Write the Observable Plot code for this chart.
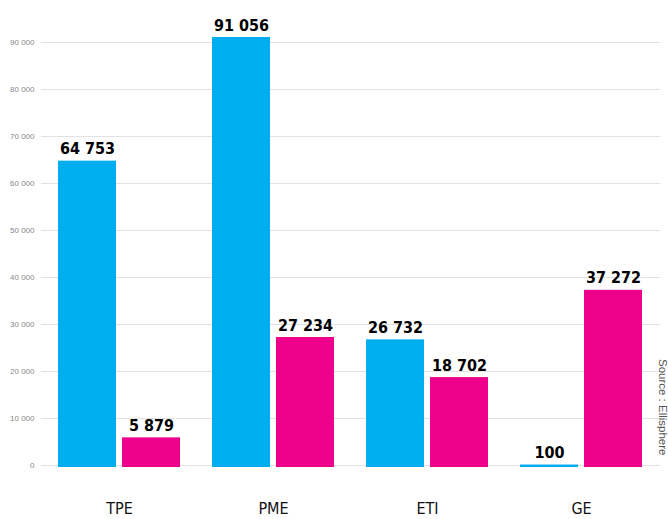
<!DOCTYPE html>
<html>
<head>
<meta charset="utf-8">
<script src="https://cdn.jsdelivr.net/npm/d3@7"></script>
<script src="https://cdn.jsdelivr.net/npm/@observablehq/plot@0.6"></script>
<style>
  html, body { margin: 0; padding: 0; background: #fff; }
  #chart svg { display: block; }
</style>
</head>
<body>
<div id="chart"></div>
<script>
const categories = ["TPE", "PME", "ETI", "GE"];
const seriesBlue = [64753, 91056, 26732, 100];
const seriesPink = [5879, 27234, 18702, 37272];
const yTicks = [0, 10000, 20000, 30000, 40000, 50000, 60000, 70000, 80000, 90000];
const sourceText = "Source : Ellisphere";

const blueRows = categories.map((c, i) => ({cat: c, value: seriesBlue[i]}));
const pinkRows = categories.map((c, i) => ({cat: c, value: seriesPink[i]}));

const fmt = (v) => d3.format(",")(v).replace(/,/g, "\u00a0");

const BLUE = "#00aeef";
const PINK = "#ec008c";
const labelFont = "'DejaVu Sans Condensed', 'DejaVu Sans', sans-serif";

const chart = Plot.plot({
  width: 668,
  height: 519,
  marginLeft: 41,
  marginRight: 8,
  marginTop: 42,
  marginBottom: 54,
  style: {background: "#fff", fontFamily: "'Liberation Sans', Arial, sans-serif"},
  x: {type: "band", domain: categories, paddingInner: 0.206, paddingOuter: 0.1, label: null},
  y: {domain: [0, 90000], label: null},
  marks: [
    Plot.ruleY(yTicks, {stroke: "#e2e2e2", strokeWidth: 1}),
    Plot.axisY({ticks: yTicks, tickFormat: fmt, tickSize: 0, tickPadding: 7, fontSize: 8, fill: "#888", label: null}),
    Plot.axisX({tickSize: 0, tickPadding: 37, fontSize: 16, fill: "#111", label: null,
      fontFamily: "'Liberation Sans Narrow', 'DejaVu Sans Condensed', sans-serif"}),
    Plot.barY(blueRows, {x: "cat", y: "value", fill: BLUE, insetRight: 64, insetBottom: -2}),
    Plot.barY(pinkRows, {x: "cat", y: "value", fill: PINK, insetLeft: 64, insetBottom: -2}),
    Plot.text(blueRows, {x: "cat", y: "value", text: (d) => fmt(d.value), dx: -32, dy: -7,
      lineAnchor: "bottom", fontSize: 16, fontWeight: "bold", fontFamily: labelFont, fill: "#000"}),
    Plot.text(pinkRows, {x: "cat", y: "value", text: (d) => fmt(d.value), dx: 32, dy: -7,
      lineAnchor: "bottom", fontSize: 16, fontWeight: "bold", fontFamily: labelFont, fill: "#000"}),
    Plot.text([sourceText], {frameAnchor: "bottom-right", rotate: 90, textAnchor: "end",
      dx: -2, dy: -10, fontSize: 11.5, fill: "#555"})
  ]
});

document.getElementById("chart").appendChild(chart);
</script>
</body>
</html>
